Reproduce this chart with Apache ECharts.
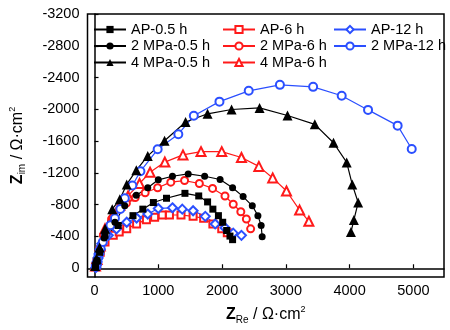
<!DOCTYPE html>
<html>
<head>
<meta charset="utf-8">
<script src="https://cdn.jsdelivr.net/npm/echarts@6/dist/echarts.min.js"></script>
<style>html,body{margin:0;padding:0;background:#fff}#c{width:450px;height:330px}</style>
</head>
<body>
<div id="c"></div>
<script>
// Tick labels
const xTicks = [0, 1000, 2000, 3000, 4000, 5000];
const yTicks = [-3200, -2800, -2400, -2000, -1600, -1200, -800, -400, 0];

// Series names
const names = ['AP-0.5 h', '2 MPa-0.5 h', '4 MPa-0.5 h', 'AP-6 h', '2 MPa-6 h', '4 MPa-6 h', 'AP-12 h', '2 MPa-12 h'];

// Data: [Z_Re, Z_im]
const AP_05h = [[15,-20],[40,-90],[80,-200],[165,-414],[371,-538],[603,-662],[758,-744],[923,-827],[1129,-881],[1418,-943],[1634,-910],[1773,-835],[1856,-744],[1943,-662],[2010,-579],[2072,-475],[2124,-405],[2165,-360]];
const MPa2_05h = [[15,-25],[40,-100],[80,-220],[150,-380],[320,-579],[474,-786],[655,-918],[835,-1013],[1000,-1113],[1222,-1158],[1469,-1187],[1727,-1158],[1969,-1117],[2165,-1013],[2330,-902],[2474,-786],[2562,-662],[2613,-538],[2629,-397]];
const MPa4_05h = [[10,-30],[30,-120],[80,-260],[165,-496],[278,-744],[397,-868],[505,-1055],[655,-1232],[835,-1414],[1098,-1605],[1428,-1840],[1773,-1944],[2149,-1998],[2588,-2018],[3026,-1923],[3454,-1811],[3747,-1580],[3954,-1332],[4041,-1055],[4134,-827],[4067,-608],[4021,-455]];
const AP_6h = [[15,-20],[40,-80],[90,-200],[165,-331],[294,-414],[387,-455],[505,-496],[660,-558],[814,-612],[943,-641],[1062,-670],[1175,-670],[1356,-670],[1546,-653],[1711,-629],[1856,-558],[1995,-496],[2082,-447]];
const MPa2_6h = [[15,-25],[40,-100],[80,-250],[139,-414],[268,-620],[397,-744],[500,-819],[639,-889],[794,-951],[990,-1013],[1196,-1084],[1412,-1104],[1644,-1067],[1851,-1005],[2046,-910],[2175,-806],[2294,-711],[2381,-620],[2448,-496]];
const MPa4_6h = [[15,-30],[40,-110],[90,-280],[165,-496],[294,-662],[397,-794],[526,-910],[706,-1067],[871,-1208],[1103,-1336],[1387,-1427],[1670,-1468],[1995,-1468],[2304,-1394],[2577,-1282],[2794,-1137],[3010,-972],[3216,-732],[3361,-591]];
const AP_12h = [[20,-10],[30,-40],[40,-80],[55,-130],[70,-180],[90,-240],[113,-310],[216,-414],[345,-496],[505,-579],[660,-633],[835,-682],[1000,-753],[1222,-761],[1376,-744],[1546,-724],[1737,-653],[1892,-558],[2046,-509],[2175,-442],[2304,-414]];
const MPa2_12h = [[25,-15],[35,-50],[45,-90],[60,-140],[75,-190],[95,-250],[130,-330],[180,-430],[250,-540],[320,-630],[405,-745],[475,-880],[593,-1042],[720,-1220],[990,-1497],[1314,-1687],[1557,-1919],[1959,-2097],[2418,-2233],[2907,-2308],[3428,-2283],[3876,-2171],[4289,-1993],[4753,-1795],[4974,-1501]];

const BLACK = '#000000', RED = '#ff1a1a', BLUE = '#2b4fff';
const FONT = '"Liberation Sans", Arial, sans-serif';

function mk(name, data, color, symbol, size, lw) {
  return {
    name: name, type: 'line', data: data, color: color,
    symbol: symbol, symbolSize: size,
    lineStyle: { color: color, width: 1.2 },
    itemStyle: { color: color, borderWidth: lw || 1.2 },
    emphasis: { disabled: true }, animation: false
  };
}

const series = [
  mk(names[3], AP_6h, RED, 'emptyRect', 7),
  mk(names[4], MPa2_6h, RED, 'emptyCircle', 7),
  mk(names[5], MPa4_6h, RED, 'emptyTriangle', 9),
  mk(names[6], AP_12h, BLUE, 'emptyDiamond', 9),
  mk(names[7], MPa2_12h, BLUE, 'emptyCircle', 8, 2),
  mk(names[0], AP_05h, BLACK, 'rect', 7),
  mk(names[1], MPa2_05h, BLACK, 'circle', 7),
  mk(names[2], MPa4_05h, BLACK, 'triangle', 10)
];

function legend(left, data) {
  return {
    orient: 'vertical', left: left, top: 22, data: data,
    itemWidth: 32, itemHeight: 9, itemGap: 1.5, padding: 0,
    textStyle: { fontFamily: FONT, fontSize: 14.5, color: '#000', lineHeight: 15 },
    selectedMode: false
  };
}

const fmt = v => String(v);

const chart = echarts.init(document.getElementById('c'), null, { renderer: 'canvas' });
chart.setOption({
  backgroundColor: '#fff',
  animation: false,
  grid: { left: 82, right: 6, top: 14, bottom: 48, show: true, borderColor: '#000', borderWidth: 1.5, backgroundColor: 'transparent' },
  legend: [
    legend(93, [names[0], names[1], names[2]]),
    legend(222, [names[3], names[4], names[5]]),
    legend(333, [names[6], names[7]])
  ],
  xAxis: {
    type: 'value', min: -110, max: 5480,
    splitLine: { show: false },
    axisLine: { show: true, lineStyle: { color: '#000', width: 1.5 } },
    axisTick: { show: true, inside: true, length: 4, customValues: xTicks, lineStyle: { color: '#000', width: 1.2 } },
    axisLabel: { customValues: xTicks, formatter: fmt, color: '#000', fontFamily: FONT, fontSize: 14.5, margin: 6 },
    name: '{z|Z}{s|Re}{t| / Ω·cm}{p|2}',
    nameLocation: 'middle', nameGap: 28,
    nameTextStyle: {
      color: '#000', fontFamily: FONT,
      rich: {
        z: { fontSize: 16, fontWeight: 'bold', fontFamily: FONT },
        s: { fontSize: 10, fontFamily: FONT, padding: [10, 0, 0, 0] },
        t: { fontSize: 16, fontFamily: FONT },
        p: { fontSize: 9, fontFamily: FONT, padding: [0, 0, 10, 0] }
      }
    }
  },
  yAxis: {
    type: 'value', inverse: true, min: -3200, max: 110,
    splitLine: { show: false },
    axisLine: { show: true, lineStyle: { color: '#000', width: 1.5 } },
    axisTick: { show: true, inside: true, length: 4, customValues: yTicks, lineStyle: { color: '#000', width: 1.2 } },
    axisLabel: { customValues: yTicks, formatter: fmt, color: '#000', fontFamily: FONT, fontSize: 14.5, margin: 8 },
    name: '{z|Z}{s|im}{t| / Ω·cm}{p|2}',
    nameLocation: 'middle', nameGap: 60,
    nameTextStyle: {
      color: '#000', fontFamily: FONT,
      rich: {
        z: { fontSize: 16, fontWeight: 'bold', fontFamily: FONT },
        s: { fontSize: 10, fontFamily: FONT, padding: [10, 0, 0, 0] },
        t: { fontSize: 16, fontFamily: FONT },
        p: { fontSize: 9, fontFamily: FONT, padding: [0, 0, 10, 0] }
      }
    }
  },
  series: series
});
</script>
</body>
</html>
